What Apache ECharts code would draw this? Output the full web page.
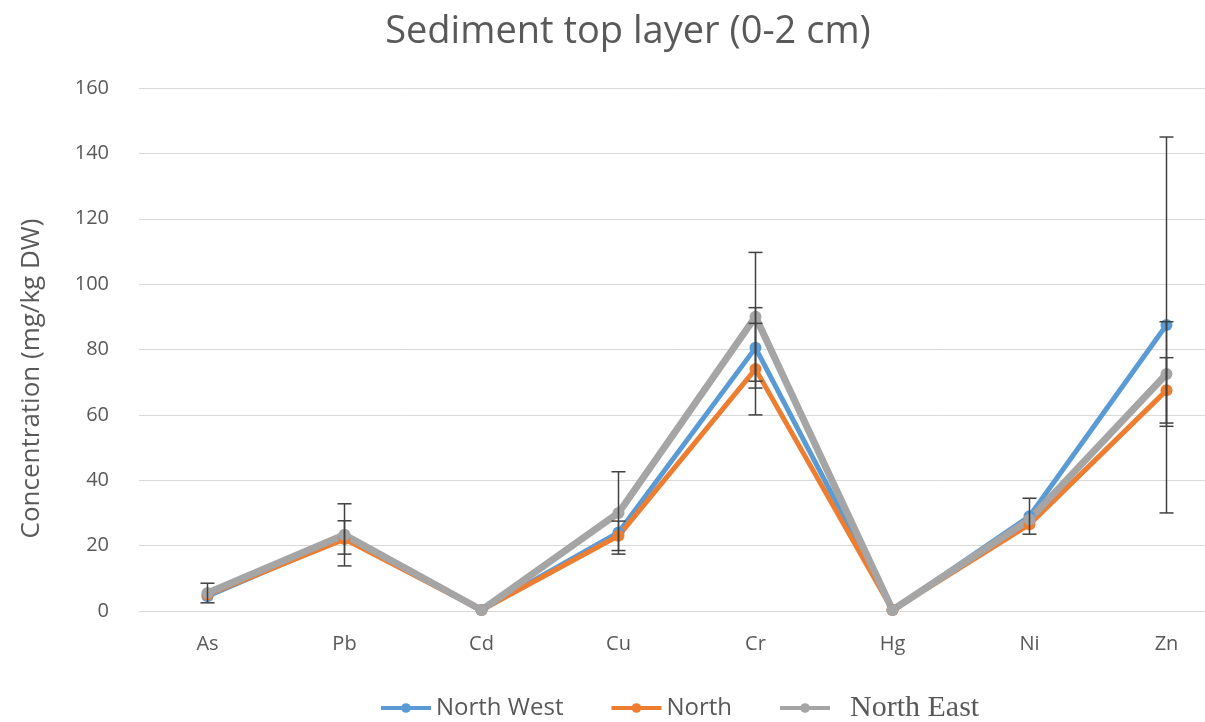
<!DOCTYPE html>
<html>
<head>
<meta charset="utf-8">
<script src="https://cdn.jsdelivr.net/npm/echarts@6/dist/echarts.min.js"></script>
<style>
  html, body { margin: 0; padding: 0; background: #ffffff; }
  #chart { width: 1205px; height: 722px; }
</style>
</head>
<body>
<div id="chart"></div>
<script>
// Metal concentrations in the top sediment layer, by sampling zone
const categories = ['As', 'Pb', 'Cd', 'Cu', 'Cr', 'Hg', 'Ni', 'Zn'];
const yTicks = [0, 20, 40, 60, 80, 100, 120, 140, 160];

const northWest = [4.5, 22.5, 0.3, 24, 80.5, 0.3, 29, 87.5];
const north     = [5.0, 22.0, 0.3, 23, 74.0, 0.3, 26.5, 67.5];
const northEast = [5.5, 23.3, 0.3, 30, 90.0, 0.3, 28, 72.5];

// Standard deviation (half-width of the error bar); null = no bar
const northWestErr = [null, 5.1, null, null, 12.3, null, 5.5, 57.5];
const northErr     = [null, null, null, 4.5, 14.0, null, null, 10.0];
const northEastErr = [3.0, 9.5, null, 12.6, 19.7, null, null, 16.0];

const colors = { nw: '#5B9BD5', n: '#ED7D31', ne: '#A5A5A5' };
const textGrey = '#595959';
const sans = 'Open Sans';

function errorData(values, errs) {
  const out = [];
  errs.forEach((e, i) => { if (e != null) out.push([i, values[i], e]); });
  return out;
}

function renderError(params, api) {
  const i = api.value(0), v = api.value(1), e = api.value(2);
  const top = api.coord([i, v + e]);
  const bot = api.coord([i, v - e]);
  const w = 7;
  const style = { stroke: '#404040', lineWidth: 1.5 };
  return {
    type: 'group',
    children: [
      { type: 'line', shape: { x1: top[0], y1: top[1], x2: bot[0], y2: bot[1] }, style },
      { type: 'line', shape: { x1: top[0] - w, y1: top[1], x2: top[0] + w, y2: top[1] }, style },
      { type: 'line', shape: { x1: bot[0] - w, y1: bot[1], x2: bot[0] + w, y2: bot[1] }, style }
    ]
  };
}

function lineSeries(name, data, color, width) {
  return {
    name, type: 'line', data,
    symbol: 'circle', symbolSize: 12,
    lineStyle: { color, width },
    itemStyle: { color },
    emphasis: { disabled: true },
    animation: false
  };
}

function errorSeries(values, errs) {
  return {
    type: 'custom', renderItem: renderError,
    data: errorData(values, errs),
    encode: { x: 0, y: 1 },
    z: 5, silent: true, animation: false
  };
}

const chart = echarts.init(document.getElementById('chart'), null, { renderer: 'canvas' });
chart.setOption({
  backgroundColor: '#ffffff',
  title: {
    text: 'Sediment top layer (0-2 cm)',
    left: 623, top: 8, textAlign: 'center',
    textStyle: { fontFamily: sans, fontSize: 38, fontWeight: 'normal', color: textGrey }
  },
  legend: {
    top: 688, left: 374,
    itemWidth: 50, itemHeight: 12, itemGap: 46,
    lineStyle: { width: 4 },
    textStyle: { fontFamily: sans, fontSize: 24, color: textGrey },
    data: [
      { name: 'North West' },
      { name: 'North' },
      { name: 'North East', textStyle: { fontFamily: 'Liberation Serif', fontSize: 30, color: textGrey, padding: [0, 0, 0, 15] } }
    ]
  },
  grid: { left: 139, top: 88, width: 1096, height: 523, outerBoundsMode: 'none' },
  xAxis: {
    type: 'category', data: categories, boundaryGap: true,
    axisLine: { show: true, lineStyle: { color: '#d9d9d9' } },
    axisTick: { show: false },
    axisLabel: { fontFamily: sans, fontSize: 20, color: textGrey, margin: 23 }
  },
  yAxis: {
    type: 'value', min: yTicks[0], max: yTicks[yTicks.length - 1], interval: 20,
    name: 'Concentration (mg/kg DW)', nameLocation: 'middle', nameGap: 94, nameRotate: 90,
    nameTextStyle: { fontFamily: sans, fontSize: 26, color: textGrey, padding: [0, 58, 0, 0] },
    axisLine: { show: false }, axisTick: { show: false },
    axisLabel: { fontFamily: sans, fontSize: 20, color: textGrey, margin: 30 },
    splitLine: { lineStyle: { color: '#d9d9d9', width: 1 } }
  },
  series: [
    lineSeries('North West', northWest, colors.nw, 5),
    lineSeries('North', north, colors.n, 5),
    lineSeries('North East', northEast, colors.ne, 7),
    errorSeries(northWest, northWestErr),
    errorSeries(north, northErr),
    errorSeries(northEast, northEastErr)
  ]
});
</script>
</body>
</html>
